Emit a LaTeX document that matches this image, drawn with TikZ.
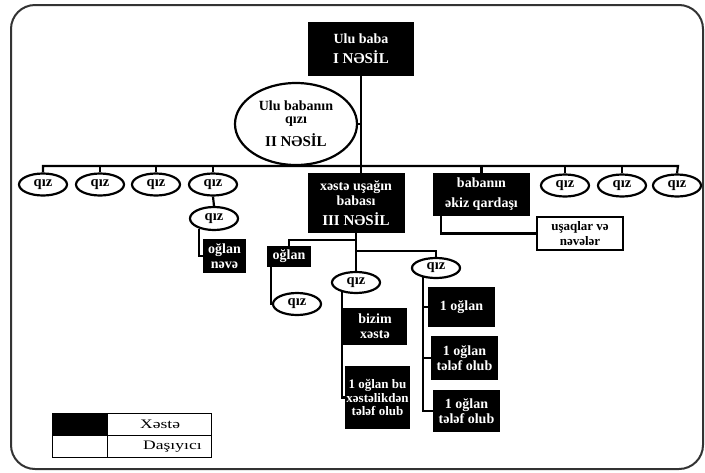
\documentclass[tikz,border=0pt]{standalone}
\usepackage{fontspec}
\setmainfont{Liberation Serif}
\usetikzlibrary{shapes.geometric}
\tikzset{
  ln/.style={line width=2.2pt, black},
  blk/.style={fill=black, text=white, inner sep=0pt, align=center,
    font=\bfseries\fontsize{14}{15}\selectfont},
  wbox/.style={draw, line width=2.2pt, fill=white, inner sep=0pt, align=center,
    font=\bfseries\fontsize{13}{14}\selectfont},
  ell/.style={ellipse, draw, line width=2.2pt, fill=white, inner sep=0pt, align=center,
    minimum width=48pt, minimum height=22pt, font=\bfseries\fontsize{14.5}{15}\selectfont},
  lgc/.style={draw, line width=0.7pt, inner sep=0pt, minimum height=22pt},
}
\newcommand{\ns}[1]{{\fontsize{15}{16}\selectfont #1}}
\begin{document}
\begin{tikzpicture}[x=1pt, y=-1pt]
\useasboundingbox (0,0) rectangle (705,472);
% frame
\draw[line width=2pt, black!80, rounded corners=24pt] (11,5) rectangle (703,469);

% top box
\node[blk, minimum width=106pt, minimum height=54pt] (top) at (361,49)
  {Ulu baba\\[5pt]\ns{I NƏSİL}};
% second generation ellipse
\node[ell, minimum width=122pt, minimum height=82pt, font=\bfseries\fontsize{14}{13}\selectfont] (gen2) at (296,124)
  {Ulu babanın\\qızı\\[6pt]\ns{II NƏSİL}};

% third generation row
\node[blk, minimum width=97pt, minimum height=60pt] (xeste) at (356,203)
  {xəstə uşağın\\babası\\[5pt]\ns{III NƏSİL}};
\node[blk, minimum width=97pt, minimum height=43pt] (bab) at (481.5,194.5)
  {babanın\\[5pt]əkiz qardaşı};
\node[ell] (q1) at (43,184.5) {qız};
\node[ell] (q2) at (100,184.5) {qız};
\node[ell] (q3) at (156,184.5) {qız};
\node[ell] (q4) at (213,184.5) {qız};
\node[ell] (q7) at (565,185.5) {qız};
\node[ell] (q8) at (622,185.5) {qız};
\node[ell] (q9) at (677,185.5) {qız};

\coordinate (barL) at (43,166);
\coordinate (barR) at (678,166);
\draw[ln] (top.south) -- (top.south |- xeste.north);
\draw[ln] (gen2.east) -- (gen2.east -| top.south);
\draw[ln] (q1.north) |- (barR) -- (q9.north);
\foreach \q in {q2,q3,q4,q7,q8,bab}{
  \draw[ln] (\q.north) -- (\q.north |- barL);
}

% branch under q4
\node[ell, minimum height=23pt] (q5) at (214,218.5) {qız};
\node[blk, minimum width=43pt, minimum height=34pt] (ogn) at (224.5,256) {oğlan\\nəvə};
\draw[ln] (q4.south) -- (q5.north);
\draw[ln] (q5.215) |- (ogn.west);

% twin brother's descendants
\node[wbox, minimum width=86pt, minimum height=33pt] (usq) at (580,233.5) {uşaqlar və\\[1pt]nəvələr};
\draw[ln] ([xshift=8pt]bab.south west) |- (usq.west);

% under patient's grandfather
\node[ell, minimum height=21pt] (mq) at (356,282.5) {qız};
\node[blk, minimum width=44pt, minimum height=21pt] (og) at (289,256.5) {oğlan};
\node[ell, minimum height=20pt] (rq) at (436,268) {qız};
\coordinate (j1) at (356,240);
\coordinate (j2) at (356,251);
\draw[ln] (xeste.south) -- (mq.north);
\draw[ln] (j1) -| (og.north);
\draw[ln] (j2) -| (rq.north);

\node[ell] (lq) at (297,304) {qız};
\draw[ln] ([xshift=4pt]og.south west) |- (lq.west);

\node[blk, minimum width=64pt, minimum height=37pt] (biz) at (375,326.5) {bizim\\xəstə};
\node[blk, minimum width=65pt, minimum height=63pt, font=\bfseries\fontsize{13}{13.5}\selectfont] (bu) at (377.5,397.5)
  {1 oğlan bu\\xəstəlikdən\\tələf olub};
\draw[ln] (mq.215) |- (bu.west);
\draw[ln] (mq.215 |- biz.west) -- (biz.west);

\node[blk, minimum width=67pt, minimum height=40pt] (o1) at (461.5,307) {1 oğlan};
\node[blk, minimum width=67pt, minimum height=44pt] (o2) at (464.5,358) {1 oğlan\\tələf olub};
\node[blk, minimum width=67pt, minimum height=42pt] (o3) at (466.5,411) {1 oğlan\\tələf olub};
\draw[ln] (rq.215) |- (o3.west);
\draw[ln] (rq.215 |- o1.west) -- (o1.west);
\draw[ln] (rq.215 |- o2.west) -- (o2.west);

% legend
\node[lgc, fill=black, minimum width=55pt] (lc1) at (79.5,424) {};
\node[lgc, minimum width=55pt] (lc2) at (79.5,446) {};
\node[lgc, minimum width=104pt] (lc3) at (159,424) {};
\node[lgc, minimum width=104pt] (lc4) at (159,446) {};
\node[anchor=west, inner sep=0pt, font=\fontsize{13}{14}\selectfont] (lt1) at (140,424.5) {\scalebox{1.35}[1]{Xəstə}};
\node[anchor=west, inner sep=0pt, font=\fontsize{13}{14}\selectfont] (lt2) at (143,446.5) {\scalebox{1.35}[1]{Daşıyıcı}};
\end{tikzpicture}
\end{document}
